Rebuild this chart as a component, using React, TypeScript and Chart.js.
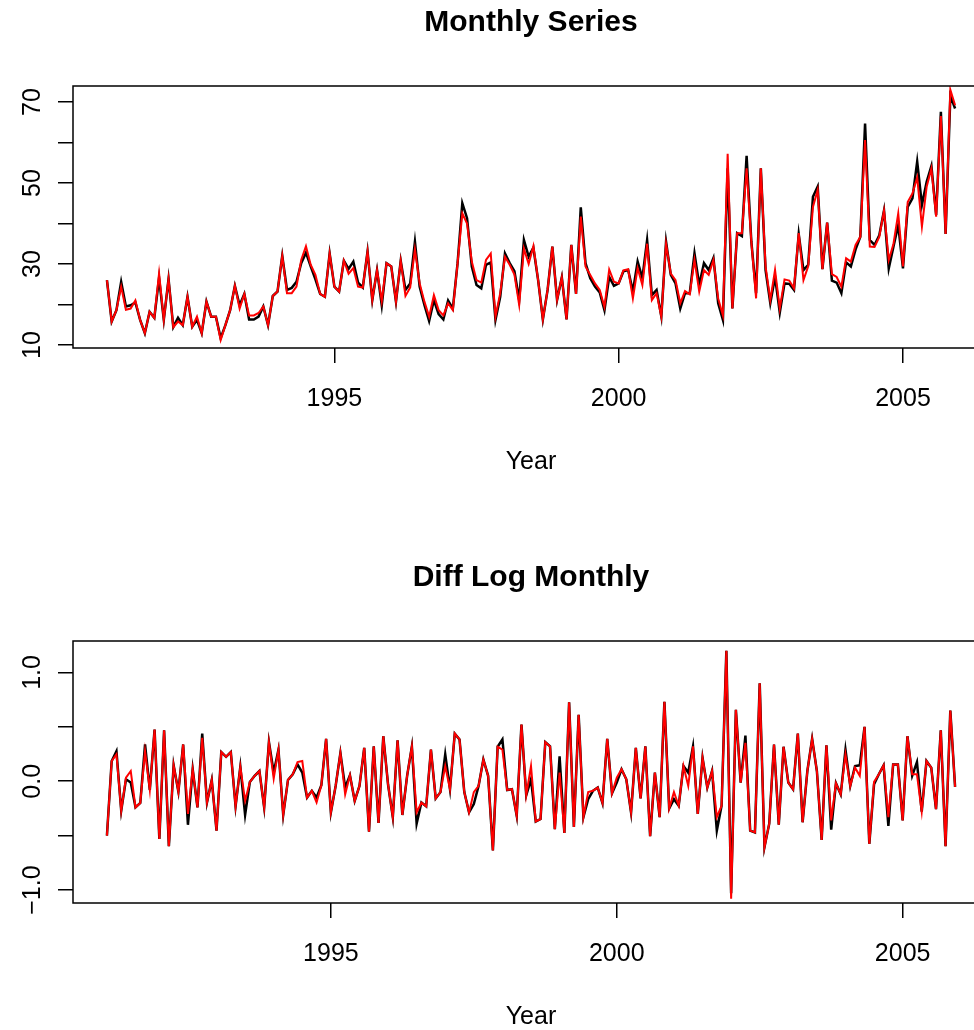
import React, { useEffect, useRef } from "react";
import { Chart, registerables } from "chart.js";

Chart.register(...registerables);

// ts(start = 1991, frequency = 12)
const START_YEAR = 1991;
const FREQ = 12;

const monthlyBlack = [
  26.0, 15.8, 18.6, 25.6, 19.5, 19.8, 20.5, 16.2, 12.9, 18.2,
  16.7, 26.5, 16.2, 26.3, 14.4, 16.7, 14.9, 21.9, 14.5, 16.2,
  12.9, 20.7, 17.0, 17.0, 11.7, 14.9, 18.6, 24.6, 19.8, 22.6,
  16.3, 16.3, 17.0, 19.5, 14.9, 22.1, 23.2, 32.0, 23.6, 24.1,
  25.6, 30.2, 32.8, 29.4, 26.2, 22.6, 21.9, 32.6, 24.4, 23.2,
  30.8, 28.8, 30.6, 25.4, 24.2, 33.1, 21.1, 28.5, 19.8, 30.2,
  29.4, 20.7, 30.8, 23.6, 25.2, 35.5, 24.4, 19.9, 15.9, 21.1,
  17.6, 16.3, 21.0, 19.0, 30.2, 45.0, 41.3, 29.4, 24.8, 24.0,
  29.8, 30.4, 16.2, 21.9, 32.6, 30.2, 28.2, 21.1, 35.9, 31.8,
  34.0, 26.0, 16.3, 23.6, 34.3, 21.1, 26.7, 16.3, 34.7, 22.6,
  44.0, 30.2, 26.5, 24.4, 23.0, 18.6, 26.8, 24.6, 25.2, 28.2,
  28.5, 23.2, 30.6, 26.5, 35.9, 22.3, 23.6, 17.0, 35.5, 27.3,
  25.2, 19.0, 22.8, 22.8, 32.6, 24.8, 30.2, 28.5, 31.5, 20.3,
  16.2, 53.6, 19.0, 37.6, 36.9, 56.7, 35.5, 22.8, 53.6, 28.5,
  20.3, 26.8, 18.0, 25.2, 25.1, 23.6, 37.4, 28.5, 29.8, 46.6,
  49.1, 28.7, 40.2, 25.9, 25.4, 22.8, 30.4, 29.4, 33.6, 36.7,
  64.7, 35.9, 34.7, 37.1, 43.2, 28.9, 34.3, 39.6, 28.9, 44.1,
  46.2, 55.3, 44.6, 50.3, 54.2, 42.1, 67.6, 37.4, 71.5, 68.4,
];

const monthlyRed = [
  26.0, 15.8, 18.6, 24.4, 18.7, 19.0, 21.0, 16.2, 12.9, 18.2,
  16.7, 27.7, 16.2, 26.3, 14.4, 15.8, 14.9, 21.9, 14.5, 17.0,
  12.9, 20.7, 17.0, 17.0, 11.2, 14.9, 18.6, 24.6, 19.0, 22.6,
  17.3, 17.3, 17.9, 19.5, 14.9, 22.1, 23.2, 32.0, 22.8, 22.8,
  24.4, 31.0, 34.4, 29.8, 27.3, 22.6, 21.9, 32.6, 24.4, 23.2,
  30.8, 27.6, 29.0, 24.4, 24.2, 33.1, 21.1, 28.5, 20.8, 30.2,
  29.4, 20.7, 30.8, 22.1, 24.2, 33.6, 25.2, 20.7, 17.0, 22.3,
  18.6, 17.3, 20.3, 18.6, 30.2, 42.5, 40.0, 30.6, 26.0, 25.4,
  31.0, 32.6, 17.0, 22.8, 31.8, 29.8, 27.4, 19.9, 33.8, 30.0,
  34.4, 26.0, 16.3, 23.6, 34.3, 21.1, 26.7, 16.3, 34.7, 22.6,
  41.7, 29.4, 27.3, 25.2, 23.6, 19.4, 28.6, 25.6, 25.2, 28.4,
  28.7, 21.5, 29.0, 24.8, 35.0, 21.1, 22.8, 17.0, 35.0, 27.6,
  26.0, 20.3, 23.3, 22.5, 31.0, 23.2, 28.5, 27.3, 31.0, 21.5,
  17.3, 57.2, 19.0, 37.6, 37.6, 53.6, 35.5, 21.5, 53.6, 29.4,
  21.1, 28.5, 19.0, 26.2, 25.9, 24.0, 37.6, 26.0, 29.4, 44.1,
  48.3, 28.7, 40.2, 27.5, 26.8, 24.4, 31.4, 30.6, 34.7, 36.7,
  60.6, 34.3, 34.2, 36.7, 43.2, 31.0, 35.0, 42.5, 29.4, 45.3,
  47.4, 51.4, 39.2, 49.1, 53.6, 41.7, 66.5, 37.4, 73.0, 69.2,
];

// starts at 1991 + 1/12
const diffBlack = [
  -0.50, 0.186, 0.277, -0.27, 0.018, -0.012, -0.24, -0.20, 0.338, -0.08,
  0.475, -0.53, 0.469, -0.597, 0.146, -0.097, 0.338, -0.40, 0.11, -0.24,
  0.438, -0.195, 0.012, -0.454, 0.268, 0.225, 0.268, -0.23, 0.134, -0.31,
  -0.006, 0.05, 0.094, -0.24, 0.36, 0.08, 0.29, -0.31, 0.012, 0.064,
  0.155, 0.08, -0.15, -0.088, -0.15, -0.037, 0.39, -0.286, -0.043, 0.26,
  -0.058, 0.055, -0.18, -0.043, 0.307, -0.463, 0.32, -0.384, 0.414, -0.03,
  -0.33, 0.377, -0.31, 0.05, 0.32, -0.39, -0.195, -0.23, 0.29, -0.158,
  -0.10, 0.247, -0.073, 0.438, 0.384, -0.10, -0.286, -0.21, -0.043, 0.20,
  0.05, -0.636, 0.317, 0.384, -0.08, -0.073, -0.317, 0.52, -0.128, 0.018,
  -0.37, -0.347, 0.36, 0.32, -0.44, 0.23, -0.475, 0.725, -0.42, 0.61,
  -0.33, -0.165, -0.088, -0.058, -0.20, 0.39, -0.11, -0.012, 0.11, 0.018,
  -0.286, 0.307, -0.158, 0.32, -0.505, 0.08, -0.33, 0.73, -0.25, -0.165,
  -0.225, 0.14, 0.08, 0.32, -0.30, 0.216, -0.058, 0.094, -0.454, -0.225,
  1.20, -1.03, 0.657, -0.012, 0.42, -0.454, -0.47, 0.90, -0.606, -0.39,
  0.338, -0.40, 0.317, -0.012, -0.073, 0.438, -0.377, 0.094, 0.39, 0.094,
  -0.54, 0.33, -0.444, -0.018, -0.12, 0.29, -0.043, 0.14, 0.146, 0.50,
  -0.575, -0.027, 0.064, 0.146, -0.41, 0.155, 0.155, -0.36, 0.414, 0.05,
  0.176, -0.28, 0.186, 0.125, -0.256, 0.469, -0.597, 0.65, -0.052,
];

const diffRed = [
  -0.50, 0.186, 0.247, -0.27, 0.033, 0.094, -0.24, -0.20, 0.277, -0.08,
  0.475, -0.53, 0.469, -0.597, 0.146, -0.097, 0.338, -0.30, 0.11, -0.24,
  0.40, -0.195, 0.012, -0.454, 0.268, 0.225, 0.268, -0.23, 0.134, -0.18,
  -0.006, 0.05, 0.094, -0.24, 0.36, 0.024, 0.29, -0.31, 0.012, 0.064,
  0.176, 0.186, -0.15, -0.088, -0.195, -0.037, 0.39, -0.286, -0.043, 0.26,
  -0.12, 0.055, -0.18, -0.043, 0.307, -0.463, 0.32, -0.384, 0.414, -0.03,
  -0.33, 0.377, -0.31, 0.05, 0.32, -0.286, -0.195, -0.23, 0.29, -0.158,
  -0.10, 0.14, -0.073, 0.438, 0.384, -0.10, -0.286, -0.10, -0.043, 0.20,
  0.05, -0.636, 0.317, 0.29, -0.08, -0.073, -0.317, 0.52, -0.128, 0.14,
  -0.37, -0.347, 0.36, 0.32, -0.44, 0.08, -0.475, 0.725, -0.42, 0.61,
  -0.33, -0.10, -0.088, -0.058, -0.20, 0.39, -0.11, 0.033, 0.11, 0.018,
  -0.286, 0.307, -0.158, 0.32, -0.505, 0.08, -0.33, 0.73, -0.25, -0.10,
  -0.225, 0.14, -0.043, 0.32, -0.30, 0.216, -0.058, 0.094, -0.33, -0.225,
  1.20, -1.08, 0.657, -0.012, 0.353, -0.454, -0.47, 0.90, -0.606, -0.39,
  0.338, -0.40, 0.317, -0.012, -0.073, 0.438, -0.377, 0.094, 0.39, 0.094,
  -0.54, 0.33, -0.36, -0.018, -0.12, 0.247, -0.043, 0.125, 0.05, 0.50,
  -0.575, -0.006, 0.064, 0.146, -0.33, 0.155, 0.155, -0.36, 0.414, 0.064,
  0.064, -0.28, 0.186, 0.125, -0.256, 0.469, -0.597, 0.65, -0.052,
];

const xTickValues = [1995, 2000, 2005];
const topYTicks = [10, 20, 30, 40, 50, 60, 70];
const topYLabels = [10, 30, 50, 70];
const botYTicks = [-1, -0.5, 0, 0.5, 1];
const botYLabels = [-1, 0, 1];

const FONT = "'Liberation Sans', Arial, Helvetica, sans-serif";
const CANVAS_W = 1000;
const CANVAS_H = 556;
const BOX_TOP = 86;
const BOX_BOTTOM = 348;
const BOX_LEFT = 73;
const BOX_RIGHT = 989;

type PanelProps = {
  title: string;
  black: number[];
  red: number[];
  offset: number;
  xMin: number;
  xMax: number;
  yMin: number;
  yMax: number;
  yTicks: number[];
  yLabels: number[];
  fmt: (v: number) => string;
  top: number;
};

function toPoints(vals: number[], offset: number) {
  return vals.map((v, i) => ({ x: START_YEAR + (i + offset) / FREQ, y: v }));
}

function Panel(p: PanelProps) {
  const ref = useRef<HTMLCanvasElement | null>(null);
  useEffect(() => {
    const canvas = ref.current;
    if (!canvas) return;
    const decor = {
      id: "rDecor",
      afterDraw(chart: any) {
        const { ctx, chartArea } = chart;
        const ys = chart.scales.y;
        ctx.save();
        ctx.strokeStyle = "#000";
        ctx.lineWidth = 1.5;
        ctx.strokeRect(chartArea.left, chartArea.top, chartArea.right - chartArea.left, chartArea.bottom - chartArea.top);
        const cx = (chartArea.left + chartArea.right) / 2;
        ctx.fillStyle = "#000";
        ctx.textAlign = "center";
        ctx.textBaseline = "middle";
        ctx.font = `bold 30px ${FONT}`;
        ctx.fillText(p.title, cx, 23);
        ctx.font = `25px ${FONT}`;
        ctx.fillText("Year", cx, 462);
        ctx.textBaseline = "alphabetic";
        for (const v of p.yLabels) {
          const py = ys.getPixelForValue(v);
          ctx.save();
          ctx.translate(40, py);
          ctx.rotate(-Math.PI / 2);
          ctx.fillText(p.fmt(v), 0, 0);
          ctx.restore();
        }
        ctx.restore();
      },
    };
    const chart = new Chart(canvas, {
      type: "line",
      data: {
        datasets: [
          {
            data: toPoints(p.red, p.offset),
            borderColor: "#ff0000",
            borderWidth: 2,
            pointRadius: 0,
            tension: 0,
            order: 1,
          },
          {
            data: toPoints(p.black, p.offset),
            borderColor: "#000000",
            borderWidth: 2.5,
            pointRadius: 0,
            tension: 0,
            order: 2,
          },
        ],
      },
      options: {
        animation: false,
        responsive: false,
        devicePixelRatio: 1,
        layout: { padding: { top: BOX_TOP, right: CANVAS_W - BOX_RIGHT, left: 0, bottom: 0 } },
        plugins: { legend: { display: false }, title: { display: false }, tooltip: { enabled: false } },
        scales: {
          x: {
            type: "linear",
            min: p.xMin,
            max: p.xMax,
            afterFit: (s: any) => {
              s.height = CANVAS_H - BOX_BOTTOM;
            },
            afterBuildTicks: (s: any) => {
              s.ticks = xTickValues.map((v) => ({ value: v }));
            },
            ticks: {
              color: "#000",
              font: { family: FONT, size: 25 },
              padding: 21,
              maxRotation: 0,
              autoSkip: false,
              callback: (v: any) => String(v),
            },
            grid: { drawOnChartArea: false, drawTicks: true, tickLength: 15, color: "#000", lineWidth: 1.5 },
            border: { display: false },
          },
          y: {
            type: "linear",
            min: p.yMin,
            max: p.yMax,
            afterFit: (s: any) => {
              s.width = BOX_LEFT;
            },
            afterBuildTicks: (s: any) => {
              s.ticks = p.yTicks.map((v) => ({ value: v }));
            },
            ticks: { display: false },
            grid: { drawOnChartArea: false, drawTicks: true, tickLength: 15, color: "#000", lineWidth: 1.5 },
            border: { display: false },
          },
        },
      },
      plugins: [decor],
    } as any);
    return () => chart.destroy();
  }, []);
  return (
    <div style={{ position: "absolute", left: 0, top: p.top, width: CANVAS_W, height: CANVAS_H }}>
      <canvas ref={ref} width={CANVAS_W} height={CANVAS_H} style={{ display: "block", width: CANVAS_W, height: CANVAS_H }} />
    </div>
  );
}

export default function App() {
  return (
    <div style={{ position: "absolute", left: 0, top: 0, width: 974, height: 1030, overflow: "hidden", background: "#fff" }}>
      <Panel
        title="Monthly Series"
        black={monthlyBlack}
        red={monthlyRed}
        offset={0}
        xMin={1990.403}
        xMax={2006.513}
        yMin={9.254}
        yMax={73.946}
        yTicks={topYTicks}
        yLabels={topYLabels}
        fmt={(v) => String(v)}
        top={0}
      />
      <Panel
        title="Diff Log Monthly"
        black={diffBlack}
        red={diffRed}
        offset={1}
        xMin={1990.49}
        xMax={2006.51}
        yMin={-1.119}
        yMax={1.289}
        yTicks={botYTicks}
        yLabels={botYLabels}
        fmt={(v) => (v < 0 ? "\u2212" : "") + Math.abs(v).toFixed(1)}
        top={555}
      />
    </div>
  );
}
